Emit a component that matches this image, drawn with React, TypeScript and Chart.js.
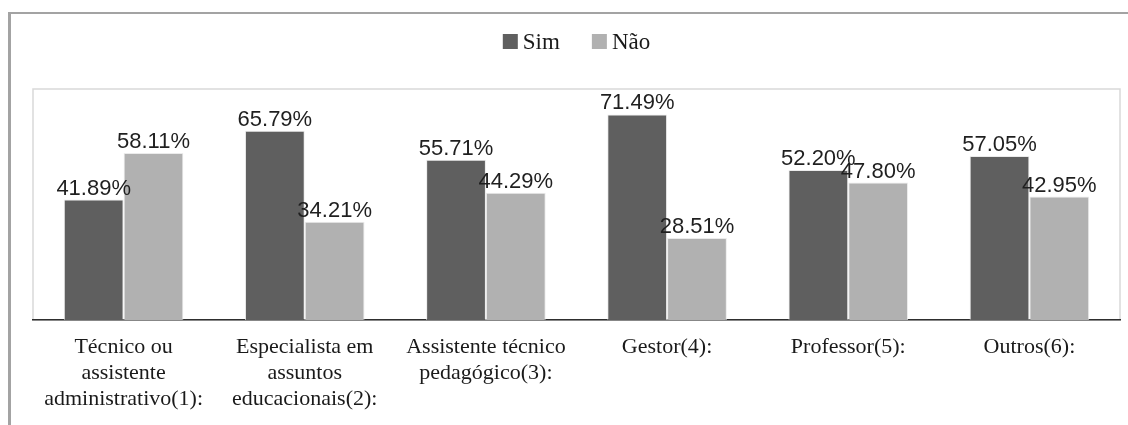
import React, { useEffect, useRef } from "react";
import { Chart, registerables } from "chart.js";

Chart.register(...registerables);

const categories: string[][] = [
  ["Técnico ou", "assistente", "administrativo(1):"],
  ["Especialista em", "assuntos", "educacionais(2):"],
  ["Assistente técnico", "pedagógico(3):"],
  ["Gestor(4):"],
  ["Professor(5):"],
  ["Outros(6):"],
];
const simValues = [41.89, 65.79, 55.71, 71.49, 52.2, 57.05];
const naoValues = [58.11, 34.21, 44.29, 28.51, 47.8, 42.95];
const seriesNames = ["Sim", "Não"];
const seriesColors = ["#5f5f5f", "#b1b1b1"];

const W = 1128;
const H = 425;

const dataLabelPlugin = {
  id: "dataLabels",
  afterDatasetsDraw(chart: any) {
    const ctx = chart.ctx;
    ctx.save();
    ctx.font = "22px 'Liberation Sans', Arial, sans-serif";
    ctx.fillStyle = "#1f1f1f";
    ctx.textAlign = "center";
    ctx.textBaseline = "alphabetic";
    chart.data.datasets.forEach((ds: any, di: number) => {
      const meta = chart.getDatasetMeta(di);
      meta.data.forEach((el: any, i: number) => {
        const v = ds.data[i] as number;
        ctx.fillText(v.toFixed(2) + "%", el.x, el.y - 5);
      });
    });
    ctx.restore();
  },
};

const framePlugin = {
  id: "frame",
  beforeDraw(chart: any) {
    const { ctx, chartArea } = chart;
    ctx.save();
    ctx.strokeStyle = "#d9d9d9";
    ctx.lineWidth = 1.5;
    ctx.strokeRect(chartArea.left, chartArea.top - 1, chartArea.right - chartArea.left, chartArea.bottom - chartArea.top + 1);
    ctx.restore();
  },
  afterDraw(chart: any) {
    const { ctx, chartArea } = chart;
    ctx.save();
    ctx.font = "23px 'Liberation Serif', 'Times New Roman', serif";
    ctx.textBaseline = "alphabetic";
    ctx.textAlign = "left";
    const box = 15;
    const gapBoxText = 5;
    const gapItems = 32;
    const widths = seriesNames.map((n) => ctx.measureText(n).width);
    let total = 0;
    widths.forEach((w, i) => {
      total += box + gapBoxText + w + (i < widths.length - 1 ? gapItems : 0);
    });
    let x = (chartArea.left + chartArea.right) / 2 - total / 2;
    const yBox = 34;
    seriesNames.forEach((n, i) => {
      ctx.fillStyle = seriesColors[i];
      ctx.fillRect(x, yBox, box, box);
      ctx.fillStyle = "#1a1a1a";
      ctx.fillText(n, x + box + gapBoxText, yBox + box);
      x += box + gapBoxText + widths[i] + gapItems;
    });
    ctx.restore();
  },
};

export default function App() {
  const ref = useRef<HTMLCanvasElement | null>(null);
  useEffect(() => {
    if (!ref.current) return;
    const chart = new Chart(ref.current, {
      type: "bar",
      data: {
        labels: categories,
        datasets: [
          {
            label: seriesNames[0],
            data: simValues,
            backgroundColor: seriesColors[0],
            borderColor: "rgba(230,230,230,0.8)",
            borderWidth: 1,
            categoryPercentage: 0.66,
            barPercentage: 1,
          },
          {
            label: seriesNames[1],
            data: naoValues,
            backgroundColor: seriesColors[1],
            borderColor: "rgba(230,230,230,0.8)",
            borderWidth: 1,
            categoryPercentage: 0.66,
            barPercentage: 1,
          },
        ],
      },
      options: {
        responsive: false,
        animation: false,
        maintainAspectRatio: false,
        layout: { padding: { left: 33, right: 8, top: 90, bottom: 0 } },
        plugins: {
          legend: { display: false },
          tooltip: { enabled: false },
        },
        scales: {
          y: {
            display: false,
            min: 0,
            max: 80,
            grid: { display: false },
          },
          x: {
            grid: { display: false, drawTicks: false },
            border: { display: true, color: "#2e2e2e", width: 1.5 },
            ticks: {
              color: "#1a1a1a",
              padding: 14,
              maxRotation: 0,
              autoSkip: false,
              font: { family: "'Liberation Serif', 'Times New Roman', serif", size: 22, lineHeight: 1.18 },
            },
            afterFit(scale: any) {
              scale.height = 105;
            },
          },
        },
      },
      plugins: [framePlugin, dataLabelPlugin],
    });
    return () => chart.destroy();
  }, []);
  return (
    <div style={{ position: "fixed", left: 0, top: 0, width: W, height: H, background: "#fff", overflow: "hidden" }}>
      <div
        style={{
          position: "absolute",
          left: 8,
          top: 12,
          width: W,
          height: H,
          borderTop: "2px solid #a3a3a3",
          borderLeft: "3px solid #a3a3a3",
          boxSizing: "border-box",
        }}
      />
      <canvas ref={ref} width={W} height={H} style={{ position: "absolute", left: 0, top: 0, width: W, height: H }} />
    </div>
  );
}
